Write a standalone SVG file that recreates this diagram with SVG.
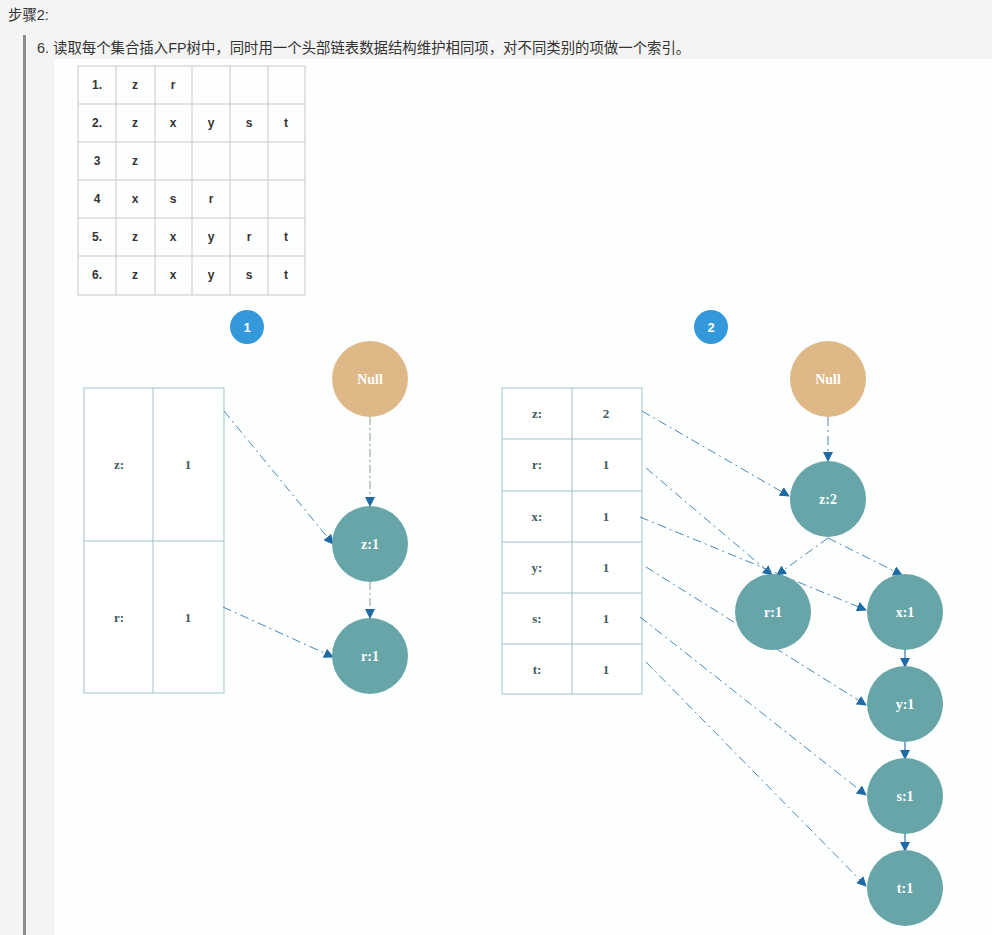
<svg xmlns="http://www.w3.org/2000/svg" width="992" height="935" viewBox="0 0 992 935">
<defs>
<style>
.hdr{font-family:"Liberation Sans","Noto Sans CJK SC",sans-serif;font-size:14.4px;fill:#333}
.tb{font-family:"Liberation Sans",Arial,sans-serif;font-size:12px;font-weight:bold;fill:#333;text-anchor:middle;dominant-baseline:central}
.grid{fill:none;stroke:#c8c8c8;stroke-width:1}
.ht{fill:#fff;stroke:#9cc5cb;stroke-width:1}
.hl{font-family:"Liberation Serif",serif;font-size:13px;font-weight:bold;fill:#3e5c60;text-anchor:middle;dominant-baseline:central}
.nd{fill:#67a5a9}
.nul{fill:#deb887}
.nt{font-family:"Liberation Serif",serif;font-size:14px;font-weight:bold;fill:#fff;text-anchor:middle;dominant-baseline:central}
.badge{fill:#3498db}
.bt{font-family:"Liberation Sans",sans-serif;font-size:13px;font-weight:bold;fill:#fff;text-anchor:middle;dominant-baseline:central}
.c{fill:none;stroke:#4a86b8;stroke-width:1;stroke-dasharray:9 4 2 4;marker-end:url(#ah)}
.cs{fill:none;stroke:#2f73ad;stroke-width:1.2;marker-end:url(#ah)}
.cg{fill:none;stroke:#a0a8b0;stroke-width:1.2;stroke-dasharray:8 3 2 3;marker-end:url(#ah)}
</style>
<marker id="ah" viewBox="0 0 10 10" refX="9" refY="5" markerWidth="10" markerHeight="10" markerUnits="userSpaceOnUse" orient="auto">
<path d="M0,0 L10,5 L0,10 z" fill="#1f6aa5"/>
</marker>
</defs>
<rect width="992" height="935" fill="#f4f4f4"/>
<rect x="23" y="35" width="3" height="900" fill="#8c8c8c"/>
<rect x="54" y="59" width="938" height="876" fill="#fdfefe"/>
<text class="hdr" x="8" y="20">步骤2:</text>
<text class="hdr" x="37" y="53">6. 读取每个集合插入FP树中，同时用一个头部链表数据结构维护相同项，对不同类别的项做一个索引。</text>

<g id="transactions">
<rect x="78" y="66" width="227" height="229" fill="#fff" class="grid"/>
<path class="grid" d="M116,66V295M155,66V295M192,66V295M230,66V295M268,66V295M78,104H305M78,142H305M78,180H305M78,218H305M78,256H305"/>
<text class="tb" x="97" y="85">1.</text><text class="tb" x="135" y="85">z</text><text class="tb" x="173" y="85">r</text>
<text class="tb" x="97" y="123">2.</text><text class="tb" x="135" y="123">z</text><text class="tb" x="173" y="123">x</text><text class="tb" x="211" y="123">y</text><text class="tb" x="249" y="123">s</text><text class="tb" x="286" y="123">t</text>
<text class="tb" x="97" y="161">3</text><text class="tb" x="135" y="161">z</text>
<text class="tb" x="97" y="199">4</text><text class="tb" x="135" y="199">x</text><text class="tb" x="173" y="199">s</text><text class="tb" x="211" y="199">r</text>
<text class="tb" x="97" y="237">5.</text><text class="tb" x="135" y="237">z</text><text class="tb" x="173" y="237">x</text><text class="tb" x="211" y="237">y</text><text class="tb" x="249" y="237">r</text><text class="tb" x="286" y="237">t</text>
<text class="tb" x="97" y="275">6.</text><text class="tb" x="135" y="275">z</text><text class="tb" x="173" y="275">x</text><text class="tb" x="211" y="275">y</text><text class="tb" x="249" y="275">s</text><text class="tb" x="286" y="275">t</text>
</g>

<g id="badge1"><circle class="badge" cx="247" cy="327" r="17"/><text class="bt" x="247" y="327">1</text></g>
<g id="badge2"><circle class="badge" cx="711" cy="327" r="17"/><text class="bt" x="711" y="327">2</text></g>

<g id="header1">
<rect class="ht" x="84" y="388" width="140" height="305"/>
<path class="ht" d="M153,388V693M84,541H224"/>
<text class="hl" x="119" y="464">z:</text><text class="hl" x="188" y="464">1</text>
<text class="hl" x="119" y="617">r:</text><text class="hl" x="188" y="617">1</text>
</g>

<g id="header2">
<rect class="ht" x="502" y="388" width="140" height="306"/>
<path class="ht" d="M572,388V694M502,439H642M502,491H642M502,542H642M502,593H642M502,644H642"/>
<text class="hl" x="537" y="413">z:</text><text class="hl" x="606" y="413">2</text>
<text class="hl" x="537" y="464">r:</text><text class="hl" x="606" y="464">1</text>
<text class="hl" x="537" y="516">x:</text><text class="hl" x="606" y="516">1</text>
<text class="hl" x="537" y="567">y:</text><text class="hl" x="606" y="567">1</text>
<text class="hl" x="537" y="618">s:</text><text class="hl" x="606" y="618">1</text>
<text class="hl" x="537" y="669">t:</text><text class="hl" x="606" y="669">1</text>
</g>

<g id="connectors">
<path class="cg" d="M370,417V506"/>
<path class="cg" d="M370,582V618"/>
<path class="c" d="M224,411L333,544"/>
<path class="c" d="M223,607L333,657"/>
<path class="c" d="M828,417V461"/>
<path class="c" d="M828,538L777,575"/>
<path class="c" d="M828,538L902,575"/>
<path class="cs" d="M905,650V667"/>
<path class="cs" d="M905,742V759"/>
<path class="cs" d="M905,834V851"/>
<path class="c" d="M642,411L789,496"/>
<path class="c" d="M646,468L772,575"/>
<path class="c" d="M640,517L866,610"/>
<path class="c" d="M646,567L866,705"/>
<path class="c" d="M640,617L866,795"/>
<path class="c" d="M646,662L866,886"/>
</g>

<g id="null1"><circle class="nul" cx="370" cy="379" r="38"/><text class="nt" x="370" y="379">Null</text></g>
<g id="z1a"><circle class="nd" cx="370" cy="544" r="38"/><text class="nt" x="370" y="544">z:1</text></g>
<g id="r1a"><circle class="nd" cx="370" cy="656" r="38"/><text class="nt" x="370" y="656">r:1</text></g>

<g id="null2"><circle class="nul" cx="828" cy="379" r="38"/><text class="nt" x="828" y="379">Null</text></g>
<g id="z2"><circle class="nd" cx="828" cy="499" r="38"/><text class="nt" x="828" y="499">z:2</text></g>
<g id="r1b"><circle class="nd" cx="773" cy="612" r="38"/><text class="nt" x="773" y="612">r:1</text></g>
<g id="x1"><circle class="nd" cx="905" cy="612" r="38"/><text class="nt" x="905" y="612">x:1</text></g>
<g id="y1"><circle class="nd" cx="905" cy="704" r="38"/><text class="nt" x="905" y="704">y:1</text></g>
<g id="s1"><circle class="nd" cx="905" cy="796" r="38"/><text class="nt" x="905" y="796">s:1</text></g>
<g id="t1"><circle class="nd" cx="905" cy="888" r="38"/><text class="nt" x="905" y="888">t:1</text></g>
</svg>
